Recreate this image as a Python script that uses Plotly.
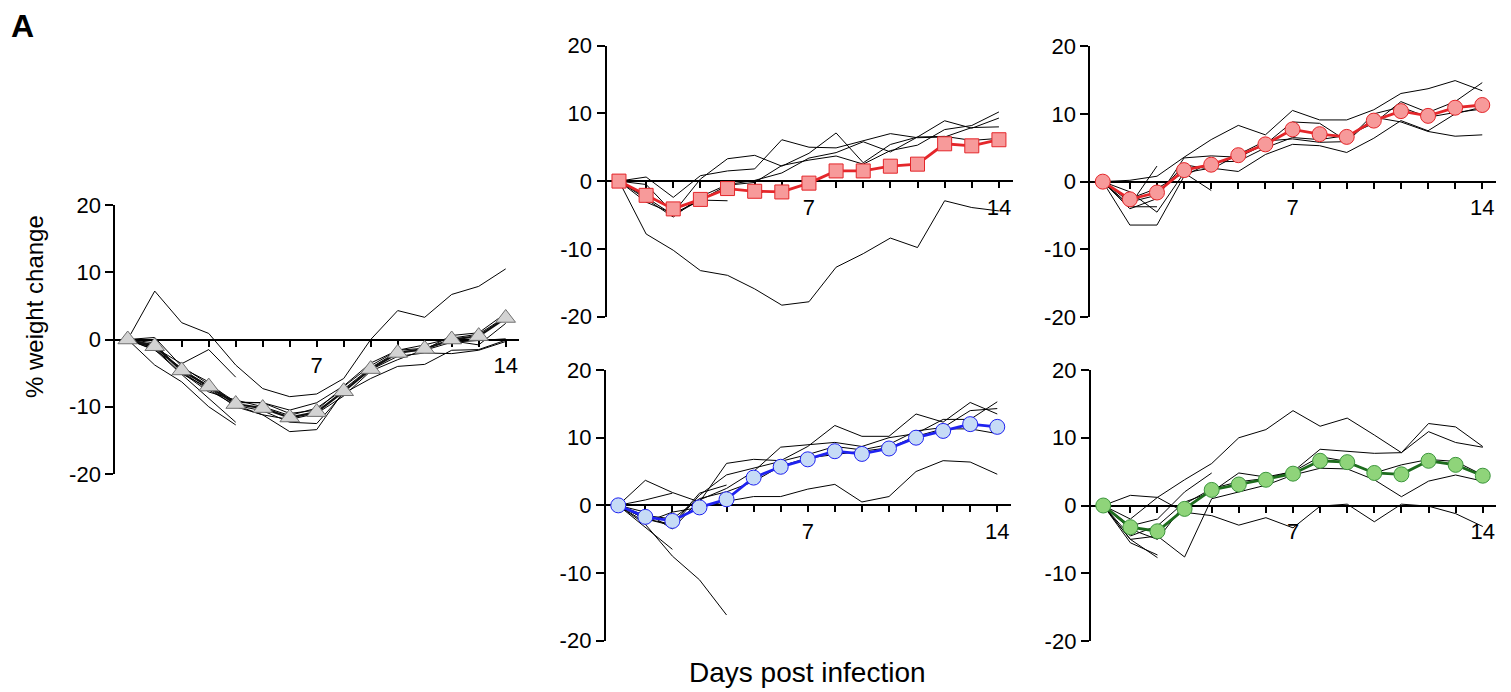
import plotly.graph_objects as go

# ---- data: % weight change per day post infection ----
days = list(range(15))
x_tick_days = list(range(1, 15))
x_tick_text = ["7" if d == 7 else "14" if d == 14 else "" for d in x_tick_days]
y_tick_vals = [-20, -10, 0, 10, 20]
y_tick_text = ["-20", "-10", "0", "10", "20"]

grey_mean = [0, -1.0, -4.6, -7.0, -9.6, -10.2, -11.6, -10.8, -7.7, -4.4, -2.0, -1.4, 0.0, 0.5, 3.2]
grey_mice = [
    [0, 7.2, 2.5, 0.9, -3.8, -7.3, -8.5, -8.1, -5.8, 0.0, 4.3, 3.3, 6.7, 7.9, 10.5],
    [0, -1.2, -3.6, -1.5, -5.6],
    [0, -3.8, -6.3, -10.0, -12.7],
    [0, -1.5, -5.2, -8.7, -12.3],
    [0, 0.3, -4.0, -6.6, -9.3, -9.4, -11.0, -10.5, -7.0, -3.9, -1.6, -0.8, 0.2, 0.8, 3.4],
    [0, -0.8, -4.8, -7.5, -9.8, -10.6, -12.3, -12.5, -8.0, -5.8, -4.0, -3.7, -1.6, -1.5, -0.1],
    [0, -1.3, -5.1, -7.2, -10.0, -11.2, -13.7, -13.4, -7.7, -4.5, -2.5, -2.0, -2.1, -1.6, -0.3],
    [0, -1.0, -4.4, -6.9, -9.4, -9.4, -10.5, -9.4, -6.9, -3.5, -1.6, -1.3, -0.2, -0.8, 2.4],
    [0, -1.6, -4.2, -6.3, -9.8, -11.2, -11.9, -11.0, -8.4, -4.7, -3.0, -1.5, 0.6, 1.0, 3.9],
    [0, -0.5, -4.9, -7.8, -9.0, -10.0, -11.3, -10.2, -7.4, -4.2, -1.8, -1.6, -0.4, -0.2, 0.1],
]

square_mean = [0, -2.1, -4.1, -2.7, -1.1, -1.5, -1.6, -0.3, 1.5, 1.5, 2.2, 2.5, 5.5, 5.2, 6.1]
square_mice = [
    [0, -0.5, -4.7, 0.3, 3.3, 3.8, 2.2, 4.1, 7.1, 2.7, 5.4, 6.5, 6.6, 6.0, 6.3],
    [0, 0.6, -2.4, 0.8, 1.5, 1.8, 6.1, 5.0, 4.9, 5.9, 7.0, 6.4, 6.5, 7.9, 8.0],
    [0, -2.6, -5.3, -2.3, -0.5, 0.1, 1.2, 3.4, 4.2, 5.8, 4.3, 6.5, 8.9, 7.8, 9.3],
    [0, -3.1, -4.8, -2.8, -0.6, -0.2, 2.3, 3.1, 3.7, 2.5, 4.5, 5.3, 7.6, 8.2, 10.2],
    [0, -2.4, -5.0, -2.8, -2.9],
    [0, -7.8, -10.2, -13.2, -13.9, -15.9, -18.3, -17.8, -12.7, -10.7, -8.4, -9.8, -2.9, -3.9, -4.4],
]

red_mean = [0, -2.6, -1.6, 1.7, 2.5, 3.9, 5.5, 7.7, 7.0, 6.6, 9.0, 10.4, 9.7, 10.9, 11.3]
red_mice = [
    [0, 0.2, 0.8, 3.6, 6.2, 8.3, 6.9, 10.5, 9.1, 9.1, 10.6, 13.0, 13.7, 14.9, 13.4],
    [0, -6.4, -6.4, 0.8, 2.9, 3.0, 5.0, 6.5, 6.2, 6.8, 8.6, 11.8, 10.2, 11.8, 14.6],
    [0, -4.0, -2.5, 3.5, 3.8, 3.6, 5.5, 8.8, 8.6, 6.0, 10.0, 11.0, 9.5, 10.2, 10.7],
    [0, -3.0, -2.0, 2.5, 1.8, 4.0, 6.0, 6.3, 5.8, 5.9, 9.5, 8.8, 7.4, 6.7, 6.9],
    [0, -1.5, -4.5, 1.3, 2.0, 1.5, 4.0, 5.5, 5.3, 4.3, 6.4, 9.0, 7.5, 10.0, 11.0],
    [0, -3.5, 2.3],
    [0, -2.5, -1.0, 1.3, -1.3],
    [0, -3.7, -3.7],
]

blue_mean = [0, -1.7, -2.3, -0.3, 0.9, 4.1, 5.7, 6.8, 8.0, 7.6, 8.4, 10.0, 11.0, 12.0, 11.6]
blue_mice = [
    [0, 3.7, 1.9, 0.5, 6.2, 6.8, 6.6, 8.7, 11.8, 10.2, 10.2, 13.5, 12.3, 15.2, 13.5],
    [0, -1.0, -3.5, 0.8, 2.5, 5.0, 8.6, 8.9, 9.3, 8.7, 10.0, 10.6, 12.7, 12.7, 15.3],
    [0, -2.0, -3.0, 1.5, 4.5, 5.5, 6.5, 7.5, 8.7, 8.2, 9.0, 11.0, 11.5, 14.0, 14.3],
    [0, -1.5, -2.0, 1.0, 2.0, 3.5, 5.8, 7.0, 7.5, 8.0, 8.5, 10.2, 11.3, 11.3, 10.6],
    [0, -2.5, -1.0, -0.3, 0.6, 1.3, 1.3, 2.4, 3.1, 0.5, 1.3, 5.0, 6.6, 6.4, 4.6],
    [0, -2.8, -7.5, -11.0, -16.2],
    [0, -3.3, -6.5],
    [0, 0.8, 1.8],
    [0, -2.0, -2.8, 1.8, 3.0],
]

green_mean = [0, -3.2, -3.8, -0.5, 2.3, 3.1, 3.8, 4.7, 6.6, 6.4, 4.8, 4.6, 6.6, 6.0, 4.4]
green_mice = [
    [0, -2.0, 1.2, 3.8, 6.2, 10.0, 11.2, 14.0, 11.7, 12.9, 10.4, 7.8, 12.1, 11.6, 8.7],
    [0, -4.5, -3.0, 0.5, 2.0, 4.8, 4.2, 5.0, 8.3, 8.0, 7.7, 7.8, 10.9, 9.3, 8.6],
    [0, -5.0, -4.5, -7.6, 1.0, 2.0, 3.0, 4.5, 5.5, 5.4, 3.8, 1.3, 3.6, 4.5, 3.6],
    [0, -3.5, -5.0, 0.2, 2.5, 3.5, 4.0, 5.0, 7.2, 6.5, 4.8, 6.0, 6.8, 6.5, 4.5],
    [0, 1.5, 1.2, -1.0, -1.5, -2.9, -1.8, -3.3, -0.1, 0.2, -2.4, 0.2, -0.1, -1.2, -3.1],
    [0, -5.5, -7.3],
    [0, -5.0, -7.7],
    [0, -3.0, -2.0, 2.0, 4.8],
]

# ---- page geometry (pixels) ----
W, H = 1511, 692
FONT = "Liberation Sans, Arial, Helvetica, sans-serif"

panels = [
    dict(mean=grey_mean, mice=grey_mice, box=(115.3, 519.2, 205, 474),
         symbol="triangle-up", size=17, fill="#d3d3d3", edge="#6f6f6f", line="#111111", lw=2.2),
    dict(mean=square_mean, mice=square_mice, box=(606.5, 1012.5, 45.5, 316.7),
         symbol="square", size=14, fill="#f79a9a", edge="#e4262a", line="#e4262a", lw=2.8),
    dict(mean=red_mean, mice=red_mice, box=(1090.3, 1495.8, 46, 317.3),
         symbol="circle", size=15, fill="#f79a9a", edge="#e4262a", line="#e4262a", lw=2.8),
    dict(mean=blue_mean, mice=blue_mice, box=(605.8, 1010.8, 370, 640.7),
         symbol="circle", size=15, fill="#c6dbf6", edge="#1f22f0", line="#1f22f0", lw=2.8),
    dict(mean=green_mean, mice=green_mice, box=(1090.8, 1496.3, 370, 641),
         symbol="circle", size=15, fill="#8fd47a", edge="#3d963d", line="#1d6b1d", lw=2.8),
]

fig = go.Figure()
layout = {}

for i, p in enumerate(panels, start=1):
    sx = "" if i == 1 else str(i)
    xref, yref = "x" + sx, "y" + sx
    x0, x1, ytop, ybot = p["box"]
    xdom = [x0 / W, x1 / W]
    ydom = [1 - ybot / H, 1 - ytop / H]

    for mouse in p["mice"]:
        fig.add_trace(go.Scatter(
            x=days[:len(mouse)], y=mouse, mode="lines",
            line=dict(color="black", width=1),
            xaxis=xref, yaxis=yref, showlegend=False, hoverinfo="skip",
        ))
    fig.add_trace(go.Scatter(
        x=days, y=p["mean"], mode="lines+markers",
        line=dict(color=p["line"], width=p["lw"]),
        marker=dict(symbol=p["symbol"], size=p["size"], color=p["fill"],
                    line=dict(color=p["edge"], width=1)),
        xaxis=xref, yaxis=yref, showlegend=False,
    ))

    layout["xaxis" + sx] = dict(
        domain=xdom, range=[-0.46, 14.5], anchor="free",
        position=(ydom[0] + ydom[1]) / 2, automargin=False,
        showline=True, linecolor="black", linewidth=2,
        ticks="outside", ticklen=6, tickwidth=2, tickcolor="black",
        tickvals=x_tick_days, ticktext=x_tick_text,
        tickfont=dict(size=22, color="black", family=FONT),
        showgrid=False, zeroline=False, layer="below traces",
    )
    layout["yaxis" + sx] = dict(
        domain=ydom, range=[-20, 20], anchor=xref, automargin=False,
        showline=True, linecolor="black", linewidth=2,
        ticks="outside", ticklen=8, tickwidth=2, tickcolor="black",
        tickvals=y_tick_vals, ticktext=y_tick_text,
        tickfont=dict(size=22, color="black", family=FONT),
        showgrid=False, zeroline=False,
    )

fig.update_layout(
    width=W, height=H,
    margin=dict(l=0, r=0, t=0, b=0, pad=0, autoexpand=False),
    paper_bgcolor="white", plot_bgcolor="rgba(0,0,0,0)",
    font=dict(family=FONT, color="black"),
    showlegend=False,
    annotations=[
        dict(text="<b>A</b>", x=9 / W, y=1 - 26 / H, xref="paper", yref="paper",
             xanchor="left", yanchor="middle", showarrow=False,
             font=dict(size=32, family=FONT, color="black")),
        dict(text="% weight change", x=34 / W, y=1 - 307 / H, xref="paper", yref="paper",
             xanchor="center", yanchor="middle", textangle=-90, showarrow=False,
             font=dict(size=24, family=FONT, color="black")),
        dict(text="Days post infection", x=808 / W, y=1 - 672 / H, xref="paper", yref="paper",
             xanchor="center", yanchor="middle", showarrow=False,
             font=dict(size=28, family=FONT, color="black")),
    ],
    **layout,
)

fig.write_html("out.html")
